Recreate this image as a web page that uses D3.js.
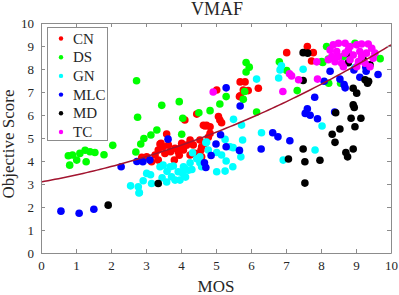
<!DOCTYPE html>
<html><head><meta charset="utf-8">
<script src="https://cdn.jsdelivr.net/npm/d3@7"></script>
<style>body{margin:0;background:#fff}svg{display:block}text{font-family:"Liberation Serif","Times New Roman",serif}</style>
</head><body><svg id="c" width="399" height="295"></svg>
<script>
const seriesNames = ["CN","DS","GN","MLC","MD","TC"];
const seriesColors = ["#ff0000","#00ff00","#00ffff","#0000ff","#000000","#ff00ff"];
const xTicks = [0,1,2,3,4,5,6,7,8,9,10];
const yTicks = [0,1,2,3,4,5,6,7,8,9,10];
const fitCoef = [3.09, 0.268, 0.0328]; // quadratic fit a + b x + c x^2

const CN = [[3.59,5.17],[3.43,4.77],[3.35,4.48],[3.49,4.62],[3.64,4.69],[3.83,4.55],[4.02,4.77],[4.26,4.91],[4.16,4.69],[3.92,4.4],[3.81,4.04],[3.26,4.26],[3.02,4.18],[2.88,4.16],[3.16,3.97],[3.35,4.04],[4.57,4.48],[4.69,5.52],[4.83,5.49],[4.45,6.04],[4.4,4.33],[4.26,4.26],[4.59,4.18],[4.07,4.48],[3.54,4.33],[4.11,5.78],[3.4,4.74],[5.02,7.09],[5.69,7.44],[5.83,7.44],[5.78,7.09],[5.92,7.06],[5.69,6.83],[6.21,7.16],[7.02,8.71],[7.61,8.98],[7.78,8.71],[7.73,8.35],[5.07,5.93],[5.11,5.78],[5.16,5.66],[4.64,5.55],[4.73,5.55],[4.83,5.2],[4.54,4.91],[4.59,4.62],[4.69,4.77],[4.78,5.03],[5.67,6.8],[3.7,4.4],[4.0,4.6],[4.35,4.7],[3.95,4.25]];
const DS = [[0.78,4.23],[0.9,4.26],[1.11,4.33],[0.82,3.82],[1.02,4.04],[1.29,3.97],[1.26,4.47],[1.4,4.4],[1.54,4.37],[1.8,4.27],[2.05,4.68],[2.71,4.39],[2.85,4.74],[2.73,7.49],[2.76,5.9],[3.45,6.42],[3.31,5.35],[3.14,5.13],[2.94,4.98],[3.95,6.58],[4.02,5.16],[4.05,5.86],[4.51,6.1],[5.86,8.28],[5.95,8.08],[5.86,7.87],[5.82,7.02],[5.78,6.68],[5.29,6.8],[5.11,6.48],[6.16,6.13],[4.83,6.19],[6.81,8.31],[7.32,7.06],[7.02,7.93],[8.05,8.28],[8.21,8.43],[8.22,7.38],[8.56,7.38],[9.69,8.45],[8.64,8.54],[8.97,9.12],[8.16,8.98],[8.02,8.32]];
const GN = [[2.56,2.92],[2.78,2.88],[2.81,2.63],[2.92,3.14],[3.02,3.46],[3.16,3.02],[3.13,3.4],[3.49,3.82],[3.46,3.27],[3.59,3.09],[3.73,3.31],[3.78,3.78],[3.92,3.53],[3.97,3.17],[4.05,3.46],[4.11,3.68],[4.26,3.92],[4.33,4.36],[4.31,3.63],[4.21,3.6],[3.4,3.75],[3.69,3.75],[3.83,3.17],[4.07,3.75],[4.54,4.18],[4.71,4.8],[4.78,4.48],[4.54,3.92],[4.73,4.82],[5.5,5.81],[5.73,5.56],[5.76,4.91],[6.3,5.23],[6.16,7.56],[6.83,7.96],[6.87,8.14],[6.79,7.61],[7.49,7.99],[8.03,5.52],[7.83,4.48],[8.97,8.06],[5.26,4.94],[5.4,4.62],[5.02,4.37],[5.16,4.26],[5.29,4.0],[5.48,3.75],[5.26,3.56],[5.02,3.53],[5.49,4.58],[5.71,4.18],[6.92,4.04],[4.59,3.75],[2.8,2.61],[3.6,3.55],[4.45,4.1],[4.13,3.3]];
const MLC = [[0.57,1.82],[1.09,1.73],[1.51,1.9],[2.29,3.75],[2.74,3.98],[2.91,3.97],[3.11,4.04],[3.63,4.95],[4.86,4.24],[4.67,3.92],[4.71,3.72],[5.29,7.18],[5.69,6.39],[5.13,5.14],[6.62,5.23],[6.77,5.05],[7.11,4.88],[5.0,4.74],[5.29,4.62],[5.67,4.46],[6.29,4.52],[7.82,6.77],[7.61,6.27],[7.55,6.07],[7.69,5.99],[7.9,5.84],[8.09,7.47],[8.26,7.9],[8.54,7.56],[8.66,7.32],[8.69,7.18],[8.39,6.13],[9.11,7.64],[9.29,7.9],[9.63,7.76],[8.94,7.96],[9.28,8.08]];
const MD = [[1.92,2.08],[3.35,3.02],[7.49,8.71],[7.62,8.69],[7.49,7.5],[8.78,8.27],[8.83,8.61],[9.21,8.4],[9.4,8.18],[8.92,7.16],[9.02,6.95],[9.26,7.53],[9.33,7.38],[8.95,6.33],[8.92,6.44],[8.42,6.1],[8.86,5.86],[9.14,5.86],[8.97,5.49],[8.54,5.39],[8.32,5.16],[8.4,4.81],[7.49,4.52],[8.92,4.52],[8.71,4.37],[8.76,4.18],[7.54,3.97],[7.97,4.03],[7.54,3.04],[7.07,4.09],[9.36,7.47]];
const TC = [[4.92,7.0],[6.91,7.02],[7.1,7.79],[7.16,7.7],[7.36,7.53],[7.88,8.31],[7.9,7.56],[8.26,8.83],[8.35,9.05],[8.5,9.12],[8.69,9.12],[8.83,8.98],[9.02,9.05],[9.16,9.09],[9.35,9.09],[9.45,8.9],[9.3,8.69],[9.11,8.76],[8.92,8.61],[8.69,8.69],[8.45,8.76],[8.31,8.54],[8.4,8.32],[8.59,8.25],[8.83,8.4],[9.07,8.32],[9.26,8.25],[9.49,8.47],[9.54,8.69],[8.5,8.54],[8.78,8.83],[9.16,8.54],[9.4,8.1],[8.21,8.4],[8.64,8.1],[9.02,8.1]];
const seriesData = [CN, DS, GN, MLC, MD, TC];

const W = 399, H = 295;
const m = {l:41, r:8, t:23, b:42};
const svg = d3.select("#c");
const x = d3.scaleLinear().domain([0,10]).range([m.l, W - m.r]);
const y = d3.scaleLinear().domain([0,10]).range([H - m.b, m.t]);
const axisCol = "#8c8c8c", txtCol = "#262626";
const serif = '"Liberation Serif","Times New Roman",serif';

const gPts = svg.append("g");
seriesData.forEach((pts, i) => {
  gPts.append("g").selectAll("circle").data(pts).join("circle")
    .attr("cx", d => x(d[0])).attr("cy", d => y(d[1])).attr("r", 3.8)
    .attr("fill", seriesColors[i]);
});

// fitted curve
const xs = d3.range(0, 10.001, 0.1);
svg.append("path").datum(xs)
  .attr("fill","none").attr("stroke","#a2142f").attr("stroke-width",1.5)
  .attr("d", d3.line().x(d => x(d)).y(d => y(fitCoef[0] + fitCoef[1]*d + fitCoef[2]*d*d)));

// axes
function styleAxis(g){
  g.attr("font-family", serif).attr("font-size", 13);
  g.select(".domain").attr("stroke", axisCol);
  g.selectAll(".tick line").attr("stroke", axisCol);
  g.selectAll(".tick text").attr("fill", txtCol).style("font-size","13px").style("font-family", serif);
}
svg.append("g").attr("transform",`translate(0,${H-m.b})`)
  .call(d3.axisBottom(x).tickValues(xTicks).tickSize(-4).tickPadding(8).tickSizeOuter(0)).call(styleAxis);
svg.append("g").attr("transform",`translate(0,${m.t})`)
  .call(d3.axisTop(x).tickValues(xTicks).tickSize(-4).tickFormat("").tickSizeOuter(0)).call(styleAxis);
svg.append("g").attr("transform",`translate(${m.l},0)`)
  .call(d3.axisLeft(y).tickValues(yTicks).tickSize(-4).tickPadding(7).tickSizeOuter(0)).call(styleAxis);
svg.append("g").attr("transform",`translate(${W-m.r},0)`)
  .call(d3.axisRight(y).tickValues(yTicks).tickSize(-4).tickFormat("").tickSizeOuter(0)).call(styleAxis);

// labels
svg.append("text").attr("x", 217).attr("y", 14.5).attr("text-anchor","middle")
  .attr("fill", txtCol).style("font-size","18px").text("VMAF");
svg.append("text").attr("x", (m.l + W - m.r)/2).attr("y", 292).attr("text-anchor","middle")
  .attr("fill", txtCol).style("font-size","17px").text("MOS");
svg.append("text").attr("transform",`translate(14,144) rotate(-90)`).attr("text-anchor","middle")
  .attr("fill", txtCol).style("font-size","17px").text("Objective Score");

// legend
const lg = svg.append("g");
lg.append("rect").attr("x",47.5).attr("y",27.5).attr("width",60).attr("height",113)
  .attr("fill","#fff").attr("stroke",axisCol).attr("stroke-width",1);
seriesNames.forEach((n,i) => {
  const yy = 38.5 + i*18.7;
  lg.append("circle").attr("cx",61).attr("cy",yy).attr("r",2.2).attr("fill",seriesColors[i]);
  lg.append("text").attr("x",73).attr("y",yy+5).attr("fill",txtCol).style("font-size","15px").text(n);
});
</script></body></html>
